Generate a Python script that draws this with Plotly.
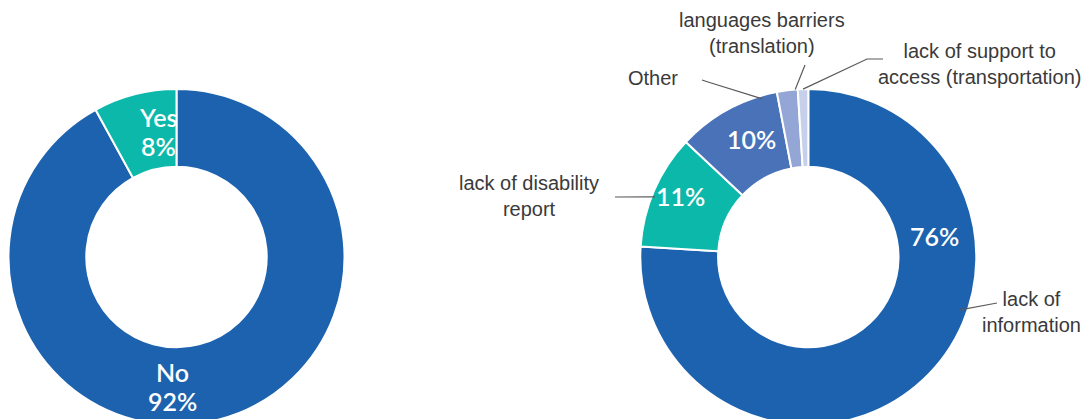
import numpy as np
import plotly.graph_objects as go

# tamanho da janela
W, H = 1091, 419
# a pagina tem margem de 8px no body, entao a figura comeca em (8, 8)
OFF = 8

# donut da esquerda
resp_labels = ["No", "Yes"]
resp_values = [92, 8]

# donut da direita
motivo_labels = [
    "lack of<br>information",
    "lack of disability<br>report",
    "Other",
    "languages barriers<br>(translation)",
    "lack of support to<br>access (transportation)",
]
motivo_values = [76, 11, 10, 2, 1]

# cores
resp_colors = ["#1c62ae", "#0bb8aa"]
motivo_colors = ["#1c62ae", "#0bb8aa", "#4a72b8", "#93a6d6", "#c7d0ea"]

# geometria (pixels da janela)
R = 168
CY = 257
CX_LEFT, CX_RIGHT = 176.5, 808.3
HOLE = 0.537

# posicao dos textos dentro das fatias (pixels)
resp_txt_pos = [(172, 386), (158, 131)]
motivo_txt_pos = [(934, 236), (680, 196), (751, 139), None, None]

# rotulos externos e linhas de chamada (pixels)
motivo_lbl_pos = [(1031, 312), (529, 196), (653, 78), (762, 33), (979, 64)]
leader_start = [
    [(997, 303)],
    [(615, 197)],
    [(702, 80), (708, 82)],
    [(805, 65)],
    [(883, 59), (867, 59)],
]
tip_frac = [0.40, 0.45, 0.85, 0.88, 0.5]
tip_r = [0.95, 0.98, 0.98, 1.0, 1.0]


def px(x):
    return (x - OFF) / W


def py(y):
    return 1 - (y - OFF) / H


def dominio(cx):
    return dict(x=[px(cx - R), px(cx + R)], y=[py(CY + R), py(CY - R)])


fig = go.Figure()

for labels, values, colors, cx in [
    (resp_labels, resp_values, resp_colors, CX_LEFT),
    (motivo_labels, motivo_values, motivo_colors, CX_RIGHT),
]:
    fig.add_trace(go.Pie(
        labels=labels,
        values=values,
        hole=HOLE,
        sort=False,
        direction="clockwise",
        rotation=0,
        textinfo="none",
        marker=dict(colors=colors, line=dict(color="white", width=2)),
        domain=dominio(cx),
        showlegend=False,
    ))

fonte_pct = dict(family="Lato", size=25, color="white", weight=600)
fonte_lbl = dict(family="Liberation Sans", size=20, color="#3a3a3a")


def texto(x, y, t, fonte):
    fig.add_annotation(x=px(x), y=py(y), xref="paper", yref="paper", text=t,
                       showarrow=False, font=fonte, xanchor="center",
                       yanchor="middle", align="center")


# textos dentro do donut da esquerda (duas linhas)
for lab, v, pos in zip(resp_labels, resp_values, resp_txt_pos):
    texto(pos[0], pos[1] - 14.5, lab, fonte_pct)
    texto(pos[0], pos[1] + 14.5, f"{v}%", fonte_pct)

# percentuais do donut da direita
for v, pos in zip(motivo_values, motivo_txt_pos):
    if pos is not None:
        texto(pos[0], pos[1], f"{v}%", fonte_pct)

# rotulos externos + linhas
total = sum(motivo_values)
acum = np.cumsum([0] + motivo_values[:-1]) / total
for i, lab in enumerate(motivo_labels):
    texto(motivo_lbl_pos[i][0], motivo_lbl_pos[i][1], lab, fonte_lbl)
    frac = acum[i] + tip_frac[i] * motivo_values[i] / total
    ang = 2 * np.pi * frac
    r = tip_r[i] * R
    tip = (CX_RIGHT + r * np.sin(ang), CY - r * np.cos(ang))
    pts = leader_start[i] + [tip]
    path = "M " + " L ".join(f"{px(x):.5f},{py(y):.5f}" for x, y in pts)
    fig.add_shape(type="path", path=path, xref="paper", yref="paper",
                  line=dict(color="#5a5a5a", width=1.2))

fig.update_layout(
    width=W,
    height=H,
    margin=dict(l=0, r=0, t=0, b=0),
    paper_bgcolor="white",
    plot_bgcolor="white",
)

fig.write_html("out.html")
